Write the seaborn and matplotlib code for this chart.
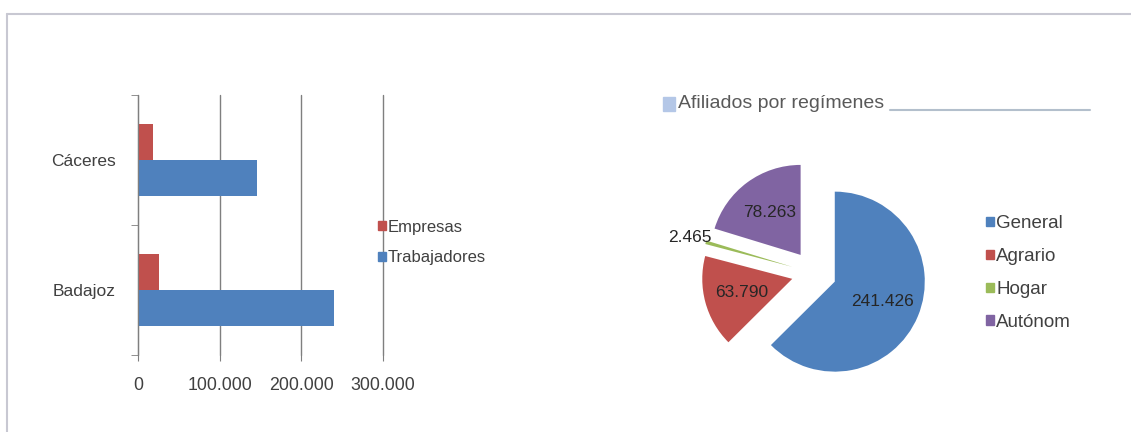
import numpy as np
import pandas as pd
import matplotlib
matplotlib.use("Agg")
import matplotlib.pyplot as plt
import matplotlib.ticker as ticker
from matplotlib.patches import Patch, Rectangle
from matplotlib.lines import Line2D
import seaborn as sns

# Datos: trabajadores y empresas por provincia
provincias = ["Cáceres", "Badajoz"]
series = ["Empresas", "Trabajadores"]
empresas = [18000, 26000]
trabajadores = [146000, 240000]
x_ticks = [0, 100000, 200000, 300000]

# Datos: afiliados por regimenes
regimenes = ["General", "Agrario", "Hogar", "Autónom"]
afiliados = [241426, 63790, 2465, 78263]

azul = "#4F81BD"
rojo = "#C0504D"
verde = "#9BBB59"
morado = "#8064A2"
gris_txt = "#404040"


def miles(v, pos=None):
    return f"{int(round(v)):,}".replace(",", ".")


sns.set_style("white")
plt.rcParams["font.family"] = ["Liberation Sans", "DejaVu Sans"]

W, H = 1131, 432
fig = plt.figure(figsize=(W / 100, H / 100), dpi=100)


def px(x0, y0, x1, y1):
    return [x0 / W, 1 - y1 / H, (x1 - x0) / W, (y1 - y0) / H]


# Marco de la hoja
fig.add_artist(Line2D([7 / W, 1], [1 - 14 / H, 1 - 14 / H], color="#C8C8D2", lw=1.5))
fig.add_artist(Line2D([7 / W, 7 / W], [0, 1 - 14 / H], color="#C8C8D2", lw=1.5))

# ---- Barras ----
df = pd.DataFrame({
    "provincia": provincias * 2,
    "serie": [series[0]] * 2 + [series[1]] * 2,
    "valor": empresas + trabajadores,
})

ax = fig.add_axes(px(138, 95, 383, 355))
sns.barplot(data=df, x="valor", y="provincia", hue="serie", order=provincias,
            hue_order=series, palette=[rojo, azul], orient="h", width=0.56,
            saturation=1, linewidth=0, legend=False, ax=ax)
ax.set_xlim(0, 300000)
ax.set_ylim(1.5, -0.5)
ax.set_xticks(x_ticks)
ax.xaxis.set_major_formatter(ticker.FuncFormatter(miles))
ax.set_yticks([-0.5, 0.5, 1.5], minor=True)
ax.grid(axis="x", color="#7F7F7F", lw=1)
ax.grid(axis="y", visible=False)
ax.set_axisbelow(True)
for gl in ax.get_xgridlines():
    gl.set_clip_on(False)
for s in ["top", "right", "bottom"]:
    ax.spines[s].set_visible(False)
ax.spines["left"].set_color("#7F7F7F")
ax.tick_params(axis="x", length=4, color="#7F7F7F", pad=12, labelsize=12.75, labelcolor=gris_txt, bottom=True)
ax.tick_params(axis="y", which="major", length=0, pad=16, labelsize=12.5, labelcolor=gris_txt)
ax.tick_params(axis="y", which="minor", length=5, color="#7F7F7F", left=True)
ax.set_xlabel("")
ax.set_ylabel("")

fig.legend(handles=[Patch(color=rojo, label=series[0]), Patch(color=azul, label=series[1])],
           loc="center left", bbox_to_anchor=(378 / W, 1 - 242.5 / H), frameon=False,
           fontsize=12, handlelength=0.45, handleheight=0.45, handletextpad=0.15,
           labelspacing=0.95, borderpad=0, borderaxespad=0, labelcolor=gris_txt)

# ---- Tarta ----
total = sum(afiliados)
pax = fig.add_axes(px(814 - 144, 273 - 144, 814 + 144, 273 + 144))
wedges, texts, autotexts = pax.pie(
    afiliados, colors=[azul, rojo, verde, morado], startangle=90, counterclock=False,
    explode=[0.25, 0.25, 0.25, 0.25], autopct=lambda p: miles(p * total / 100),
    pctdistance=0.58, wedgeprops=dict(linewidth=0),
    textprops=dict(color="#262626", fontsize=12.5))
pax.set_xlim(-1.6, 1.6)
pax.set_ylim(-1.6, 1.6)
pax.set_aspect("equal")
pax.axis("off")

# etiqueta de Hogar fuera del sector
w = wedges[2]
th = np.deg2rad((w.theta1 + w.theta2) / 2)
cx, cy = w.center
autotexts[2].set_position((cx + 1.18 * np.cos(th), cy + 1.18 * np.sin(th)))

fig.legend(handles=[Patch(color=c, label=l) for c, l in zip([azul, rojo, verde, morado], regimenes)],
           loc="center left", bbox_to_anchor=(986 / W, 1 - 273 / H), frameon=False,
           fontsize=13.5, handlelength=0.4, handleheight=0.4, handletextpad=0.15,
           labelspacing=0.85, borderpad=0, borderaxespad=0, labelcolor=gris_txt)

# Titulo de la tarta
fig.add_artist(Rectangle((663 / W, 1 - 111 / H), 12 / W, 14 / H, color="#B4C7E7"))
fig.text(678 / W, 1 - 104 / H, "Afiliados por regímenes", fontsize=14, color="#595959",
         va="center", ha="left")
fig.add_artist(Line2D([890 / W, 1090 / W], [1 - 110 / H, 1 - 110 / H], color="#B3BFCC", lw=1.5))

fig.savefig("out.png", dpi=100)
